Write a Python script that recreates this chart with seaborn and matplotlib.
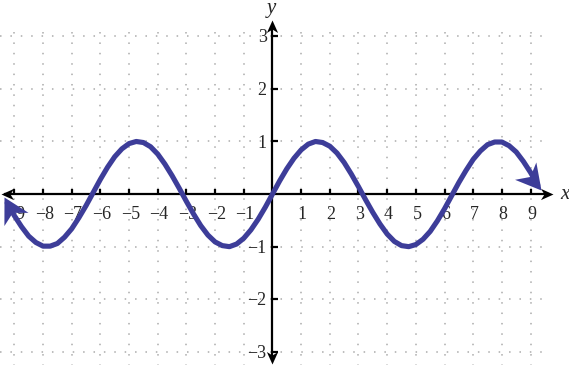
import numpy as np
import matplotlib
matplotlib.use("Agg")
import matplotlib.pyplot as plt
import seaborn as sns
from matplotlib.markers import MarkerStyle
from matplotlib.path import Path
from matplotlib.transforms import Affine2D

# ---- data ----
curve_x = [-9.37, -9.25, -9.0, -8.75, -8.5, -8.25, -8.0, -7.75, -7.5, -7.25, -7.0,
           -6.75, -6.5, -6.25, -6.0, -5.75, -5.5, -5.25, -5.0, -4.75, -4.5,
           -4.25, -4.0, -3.75, -3.5, -3.25, -3.0, -2.75, -2.5, -2.25, -2.0,
           -1.75, -1.5, -1.25, -1.0, -0.75, -0.5, -0.25, 0.0,
           0.25, 0.5, 0.75, 1.0, 1.25, 1.5, 1.75, 2.0, 2.25, 2.5,
           2.75, 3.0, 3.25, 3.5, 3.75, 4.0, 4.25, 4.5, 4.75, 5.0,
           5.25, 5.5, 5.75, 6.0, 6.25, 6.5, 6.75, 7.0, 7.25, 7.5,
           7.75, 8.0, 8.25, 8.5, 8.75, 9.0, 9.25, 9.35]
curve_y = [-0.05, -0.17, -0.41, -0.62, -0.80, -0.92, -0.99, -0.99, -0.94, -0.82, -0.66,
           -0.45, -0.22, 0.03, 0.28, 0.51, 0.71, 0.86, 0.96, 1.00, 0.98,
           0.90, 0.76, 0.57, 0.35, 0.11, -0.14, -0.38, -0.60, -0.78, -0.91,
           -0.98, -1.00, -0.95, -0.84, -0.68, -0.48, -0.25, 0.0,
           0.25, 0.48, 0.68, 0.84, 0.95, 1.00, 0.98, 0.91, 0.78, 0.60,
           0.38, 0.14, -0.11, -0.35, -0.57, -0.76, -0.90, -0.98, -1.00, -0.96,
           -0.86, -0.71, -0.51, -0.28, -0.03, 0.22, 0.45, 0.66, 0.82, 0.94,
           0.99, 0.99, 0.92, 0.80, 0.62, 0.41, 0.17, 0.08]
x_ticks = [-9, -8, -7, -6, -5, -4, -3, -2, -1, 1, 2, 3, 4, 5, 6, 7, 8, 9]
y_ticks = [-3, -2, -1, 1, 2, 3]
x_tick_labels = ["−9", "−8", "−7", "−6", "−5", "−4", "−3", "−2", "−1",
                 "1", "2", "3", "4", "5", "6", "7", "8", "9"]
y_tick_labels = ["−3", "−2", "−1", "1", "2", "3"]
grid_x = [-9, -8, -7, -6, -5, -4, -3, -2, -1, 1, 2, 3, 4, 5, 6, 7, 8, 9]
grid_y = [-3, -2, -1, 1, 2, 3]

CURVE = "#3d3d99"

sns.set_theme(style="white")
plt.rcParams["font.family"] = ["Liberation Serif", "DejaVu Serif"]

fig = plt.figure(figsize=(5.69, 3.65), dpi=100)
ax = fig.add_axes([0, 0, 1, 1])
ax.set_xlim(-9.5, 10.34)
ax.set_ylim(-3.25, 3.69)
ax.axis("off")

# dotted grid
dot = (0, (1.0, 5.8))
ax.vlines(grid_x, -3.3, 3.14, colors="#ababab", linewidth=1.1, linestyles=dot, zorder=1)
ax.hlines(grid_y, -9.5, 9.5, colors="#ababab", linewidth=1.1, linestyles=dot, zorder=1)

axis_head = Path([(0, 0), (-1, 0.45), (-0.72, 0), (-1, -0.45), (0, 0)],
                 [Path.MOVETO, Path.LINETO, Path.LINETO, Path.LINETO, Path.CLOSEPOLY])
curve_head = Path([(0, 0), (-1, 0.55), (-0.7, 0), (-1, -0.55), (0, 0)],
                  [Path.MOVETO, Path.LINETO, Path.LINETO, Path.LINETO, Path.CLOSEPOLY])


def arrow_head(x0, y0, x1, y1, ms, color, z, path, bias=0.0):
    p0 = ax.transData.transform((x0, y0))
    p1 = ax.transData.transform((x1, y1))
    ang = np.degrees(np.arctan2(p1[1] - p0[1], p1[0] - p0[0])) + bias
    m = MarkerStyle(path, transform=Affine2D().rotate_deg(ang))
    ax.plot([x1], [y1], marker=m, ms=ms, color=color, markeredgewidth=0,
            linestyle="none", zorder=z)


# axes
ax.plot([-9.35, 9.65], [0, 0], color="black", linewidth=1.6, zorder=3, solid_capstyle="butt")
ax.plot([0, 0], [-3.1, 3.2], color="black", linewidth=1.6, zorder=3, solid_capstyle="butt")
arrow_head(0, 0, 9.77, 0, 18, "black", 3, axis_head)
arrow_head(0, 0, -9.46, 0, 18, "black", 3, axis_head)
arrow_head(0, 0, 0, 3.31, 18, "black", 3, axis_head)
arrow_head(0, 0, 0, -3.23, 18, "black", 3, axis_head)

# ticks
ax.vlines(x_ticks, 0, 0.1, colors="black", linewidth=1.6, zorder=3)
ax.hlines(y_ticks, 0, 0.21, colors="black", linewidth=1.6, zorder=3)

for xv, lab in zip(x_ticks, x_tick_labels):
    ax.text(xv + 0.04, -0.22, lab, ha="center", va="top", fontsize=13, zorder=2)
for yv, lab in zip(y_ticks, y_tick_labels):
    ax.text(-0.2, yv - 0.03, lab, ha="right", va="center", fontsize=13, zorder=2)

ax.text(10.19, 0.0, "x", ha="center", va="center", fontsize=15, style="italic")
ax.text(-0.05, 3.52, "y", ha="center", va="center", fontsize=15, style="italic")

# curve
sns.lineplot(x=curve_x[1:-1], y=curve_y[1:-1], sort=False, estimator=None,
             color=CURVE, linewidth=3.7, ax=ax, zorder=4)
arrow_head(curve_x[-2], curve_y[-2], curve_x[-1], curve_y[-1], 36, CURVE, 5, curve_head, bias=8)
arrow_head(curve_x[1], curve_y[1], curve_x[0], curve_y[0], 36, CURVE, 5, curve_head, bias=0)

fig.savefig("out.png", dpi=100)
